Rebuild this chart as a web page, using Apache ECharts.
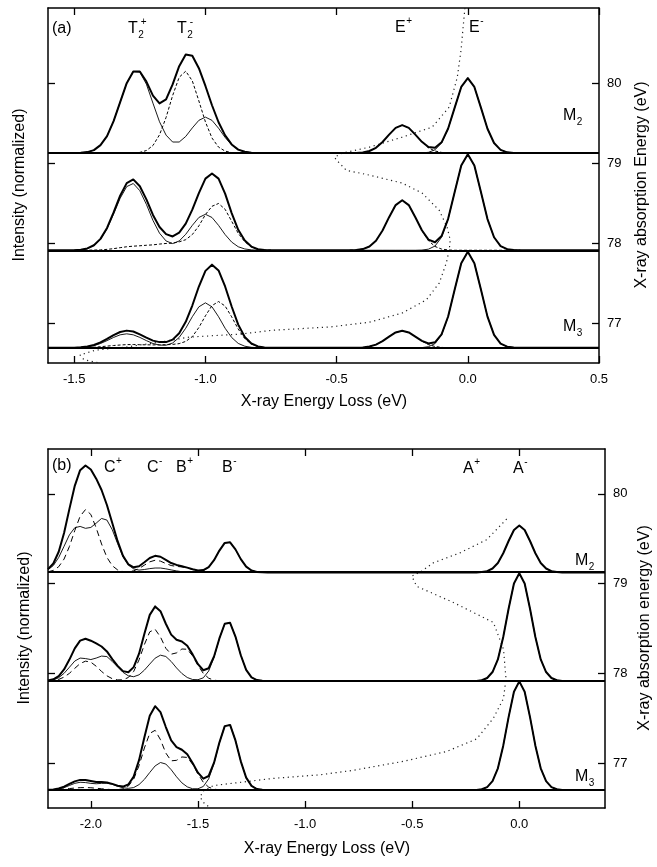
<!DOCTYPE html>
<html><head><meta charset="utf-8">
<script src="https://cdn.jsdelivr.net/npm/echarts@6/dist/echarts.min.js"></script>
<style>html,body{margin:0;padding:0;background:#fff}#c{width:657px;height:867px}</style>
</head><body><div id="c"></div>
<script>
// ================= Panel (a) =================
// sample positions (energy loss, eV)
const lossA = [-1.6,
 -1.525,-1.5,-1.475,-1.45,-1.425,-1.4,-1.375,-1.35,-1.325,-1.3,-1.275,-1.25,-1.225,-1.2,-1.175,-1.15,-1.125,-1.1,-1.075,-1.05,-1.025,-1.0,-0.975,-0.95,-0.925,-0.9,-0.875,-0.85,-0.825,-0.8,-0.775,-0.75,
 -0.65,-0.55,-0.45,-0.425,-0.4,-0.375,-0.35,-0.325,-0.3,-0.275,-0.25,-0.225,-0.2,-0.175,-0.15,-0.125,-0.1,-0.075,-0.05,-0.025,0,0.025,0.05,0.075,0.1,0.125,0.15,0.175,0.2,
 0.3,0.4,0.5];
// intensities (arb. units) : total (thick), component (thin), component (dashed)
const aM2Total = [0,0,0,0.3,1,3,8,17,32,51,70,81.7,81.7,71.6,57.6,49.7,53.7,68.7,87,98.7,97.5,85,67.2,47.9,30.9,17.7,8.7,3.5,1.3,0.4,0,0,0,
 0,0,0,0.2,0.7,2.1,5.3,11.1,18.5,25.3,28,25.3,18.5,11.3,6.1,5.4,10.8,24.6,45.5,66.2,75,66.2,45.5,24.4,10.1,3.3,0.8,0.2,0,0,0,0];
const aM2Thin = [0,0,0,0.3,1,3,8,17,32,51,70,81.5,81,69,50,31.4,18,11.1,11.1,16.7,25.2,32.8,36,32.8,24.9,15.7,8.2,3.5,1.3,0.4,0,0,0,
 0,0,0,0,0,0,0,0,0,0,0,0,0,0.2,0.8,3.3,10.1,24.4,45.5,66.2,75,66.2,45.5,24.4,10.1,3.3,0.8,0.2,0,0,0,0];
const aM2Dash = [0,0,0,0,0,0,0,0,0,0,0,0.2,0.7,2.6,7.6,18.3,35.7,57.6,75.9,82,72.3,52.2,31.2,15.1,6.0,2.0,0.5,0,0,0,0,0,0,
 0,0,0,0.2,0.7,2.1,5.3,11.1,18.5,25.3,28,25.3,18.5,11.1,5.3,2.1,0.7,0.2,0,0,0,0,0,0,0,0,0,0,0,0,0,0];

const aMidTotal = [0,0,0,0.6,1.8,5.0,11.4,22.3,37.8,54.6,67.2,70.9,64.1,50.9,35.3,23.3,16.1,13.8,17.7,26.6,40.6,57.2,71.7,76.8,71.7,56.7,37.2,20.5,9.8,3.7,1.0,0.3,0,
 0,0,0,0.3,1.2,3.8,9.6,19.8,33.1,45.2,50,45.2,33.1,20,10.7,8,14.2,31.5,58.3,84.7,96,84.7,58.3,31.2,13,4.2,1.1,0.2,0,0,0,0];
const aMidThin = [0,0,0,0.5,1.7,4.8,11,21.4,36.2,52,63.7,66.8,59.6,45.9,29.9,17.1,9.3,6.7,9.3,16,24.9,32.8,36,32.8,24.9,15.7,8.2,3.5,1.3,0.4,0,0,0,
 0,0,0,0,0,0,0,0,0,0,0,0,0,0.2,1.1,4.2,13,31.2,58.3,84.7,96,84.7,58.3,31.2,13,4.2,1.1,0.2,0,0,0,0];
const aMidDash = [0,0,0,0,0.1,0.2,0.4,0.9,1.6,2.6,3.5,4.1,4.5,5.0,5.4,6.2,6.8,7.1,8.4,10.6,15.7,24.4,35.7,44,46.8,41,29,17,8.5,3.3,1.0,0.3,0,
 0,0,0,0.3,1.2,3.8,9.6,19.8,33.1,45.2,50,45.2,33.1,19.8,9.6,3.8,1.2,0.3,0,0,0,0,0,0,0,0,0,0,0,0,0,0];

const aM3Total = [0,0,0.1,0.5,1.3,2.8,5.4,8.9,12.7,15.8,17.2,16.3,13.5,10.2,7.2,5.7,5.7,8.2,14.6,26,42.3,61.3,77,83.2,77.4,61.4,41.3,23.2,10.8,4.3,1.4,0.3,0,
 0,0,0,0.1,0.4,1.3,3.2,6.7,11.2,15.4,17,15.4,11.2,6.9,4.3,5.5,13.4,31.3,58.3,84.7,96,84.7,58.3,31.2,13,4.2,1.1,0.2,0,0,0,0];
const aM3Thin = [0,0,0.1,0.4,1.0,2.2,4.3,7.2,10.4,13,14,13,10.4,7.2,4.3,2.7,2.6,4.8,10.4,19.6,31.1,41,45,41,31.1,19.6,10.3,4.4,1.6,0.5,0.1,0,0,
 0,0,0,0,0,0,0,0,0,0,0,0,0,0.2,1.1,4.2,13,31.2,58.3,84.7,96,84.7,58.3,31.2,13,4.2,1.1,0.2,0,0,0,0];
const aM3Dash = [0,0,0,0.1,0.3,0.6,1.1,1.7,2.3,2.8,3.2,3.3,3.1,3.0,2.9,3.0,3.1,3.4,4.2,6.4,11.2,20.3,32,42.2,46.3,41.8,31,18.8,9.2,3.8,1.3,0.3,0,
 0,0,0,0.1,0.4,1.3,3.2,6.7,11.2,15.4,17,15.4,11.2,6.7,3.2,1.3,0.4,0.1,0,0,0,0,0,0,0,0,0,0,0,0,0,0];

// X-ray absorption curve (dotted): [energy loss position, absorption energy eV]
const absA = [[-0.011,80.94],[-0.026,80.41],[-0.040,80.075],[-0.071,79.70],[-0.136,79.45],[-0.250,79.325],[-0.375,79.20],[-0.478,79.125],[-0.508,79.075],[-0.501,79.04],[-0.463,78.91],[-0.375,78.85],[-0.250,78.75],[-0.174,78.625],[-0.109,78.41],[-0.079,78.20],[-0.067,78.04],[-0.071,77.91],[-0.082,77.75],[-0.109,77.50],[-0.158,77.29],[-0.250,77.125],[-0.375,77.01],[-0.527,76.95],[-0.744,76.91],[-0.870,76.86],[-1.060,76.825],[-1.147,76.775],[-1.30,76.70],[-1.42,76.66],[-1.478,76.60],[-1.463,76.54],[-1.402,76.50]];

// excitation energies (spectrum baselines) and ticks
const baseA = [79.125, 77.91, 76.69];
const xTicksA = [-1.5,-1.0,-0.5,0,0.5];
const yTicks = [77,78,79,80];

// ================= Panel (b) =================
const lossB = [-2.2,-2.175,-2.15,-2.125,-2.1,-2.075,-2.05,-2.025,-2.0,-1.975,-1.95,-1.925,-1.9,-1.875,-1.85,-1.825,-1.8,-1.775,-1.75,-1.725,-1.7,-1.675,-1.65,-1.625,-1.6,-1.575,-1.55,-1.525,-1.5,-1.475,-1.45,-1.425,-1.4,-1.375,-1.35,-1.325,-1.3,-1.275,-1.25,-1.225,-1.2,-1.175,
 -1.0,-0.8,-0.6,-0.4,-0.2,-0.175,-0.15,-0.125,-0.1,-0.075,-0.05,-0.025,0,0.025,0.05,0.075,0.1,0.125,0.15,0.175,0.2,
 0.3,0.4];
const bM2Total = [3.3,8.9,20.7,39.6,63.7,86.8,102.5,107.2,103.2,94,82.6,67.6,49.5,31.3,16.6,8.1,5.1,6.2,10.2,14.4,16.6,15.7,12.5,9.4,7.5,6.2,4.8,3.2,2.0,2.3,5.4,12.3,21.9,29.6,30.2,23.1,13.3,5.8,1.9,0.5,0.1,0,
 0,0,0,0,0,0.3,1.3,3.9,9.4,19.2,31.5,42.5,47,42.5,31.5,19.2,9.4,3.9,1.3,0.3,0,0,0];
const bM2Thin = [2.7,6.9,15,26.2,37.7,44.8,46.1,44.2,45.1,49.4,54.1,52.5,42.8,28.8,15.8,7.4,3.5,2.3,2.9,3.8,4.4,4.4,3.6,2.5,1.5,0.7,0.3,0.2,0.4,1.6,5.2,12.3,21.9,29.6,30.2,23.1,13.3,5.8,1.9,0.5,0.1,0,
 0,0,0,0,0,0.3,1.3,3.9,9.4,19.2,31.5,42.5,47,42.5,31.5,19.2,9.4,3.9,1.3,0.3,0,0,0];
const bM2Dash = [0.6,2.0,5.7,13.4,26,42,56.4,63,58.1,44.6,28.5,15.1,6.7,2.5,0.8,0.7,1.6,3.9,7.3,10.6,12.2,11.3,8.9,6.9,6.0,5.5,4.5,3.0,1.6,0.7,0.2,0,0,0,0,0,0,0,0,0,0,0,
 0,0,0,0,0,0,0,0,0,0,0,0,0,0,0,0,0,0,0,0,0,0,0];

const bMidTotal = [0.5,1.7,4.9,11.6,21.5,32.7,40.5,42.4,40.4,37.8,34.6,29.7,21.9,15.2,9.9,8.7,13.9,27.4,47.5,66.3,74.8,70.0,57.4,46.5,41.3,39.6,35.3,26.7,16.9,10.8,12.8,24.6,42.7,57.4,58.4,44.6,25.8,11.2,3.7,0.9,0.2,0,
 0,0,0,0,0,0.8,3.0,9.0,21.6,44.1,72.5,97.7,108,97.7,72.5,44.1,21.6,9.0,3.0,0.8,0,0,0];
const bMidThin = [0.3,1.1,3.3,7.7,13.8,20.0,23.0,22.5,21.5,23.0,25.0,24.5,19.6,14.1,8.7,5.2,4.3,6.2,10.9,17.0,22.9,25.9,24.6,19.6,13.1,7.5,3.5,1.5,1.3,3.2,10,23.8,42.5,57.4,58.4,44.6,25.8,11.2,3.7,0.9,0.2,0,
 0,0,0,0,0,0.8,3.0,9.0,21.6,44.1,72.5,97.7,108,97.7,72.5,44.1,21.6,9.0,3.0,0.8,0,0,0];
const bMidDash = [0.2,0.6,1.6,3.9,7.7,12.7,17.5,19.9,18.9,14.8,9.6,5.2,2.3,1.1,1.2,3.5,9.6,21.2,36.6,49.3,51.9,44.1,32.8,26.9,28.2,32.1,31.8,25.2,15.6,7.6,2.8,0.8,0.2,0,0,0,0,0,0,0,0,0,
 0,0,0,0,0,0,0,0,0,0,0,0,0,0,0,0,0,0,0,0,0,0,0];

const bM3Total = [0.2,0.6,1.6,3.4,6.1,8.7,10.2,10.0,9.0,8.1,8.0,7.6,6.2,4.3,3.5,5.6,13.5,30.0,52.9,74.4,84.1,78.1,63.2,49.7,43.1,40.4,35.9,27.2,17.4,11.4,14.1,27.4,47.6,64.1,65.3,49.8,28.8,12.5,4.2,1.0,0.2,0,
 0,0,0,0,0,0.8,3.0,9.0,21.8,44.5,73.1,98.6,109,98.6,73.1,44.5,21.8,9.0,3.0,0.8,0,0,0];
const bM3Thin = [0.1,0.3,1.0,2.4,4.6,6.7,7.8,7.5,6.7,6.3,6.7,6.8,5.8,3.9,2.3,1.7,2.5,5.5,10.7,17.6,24.2,27.6,26.1,20.4,13.3,7.2,3.2,1.3,1.3,3.6,11.2,26.5,47.4,64.1,65.3,49.8,28.8,12.5,4.2,1.0,0.2,0,
 0,0,0,0,0,0.8,3.0,9.0,21.8,44.5,73.1,98.6,109,98.6,73.1,44.5,21.8,9.0,3.0,0.8,0,0,0];
const bM3Dash = [0.1,0.3,0.6,1.0,1.5,2.0,2.4,2.5,2.3,1.8,1.3,0.8,0.4,0.4,1.2,3.9,11.0,24.5,42.2,56.8,59.9,50.5,37.1,29.3,29.8,33.2,32.7,25.9,16.1,7.8,2.9,0.9,0.2,0,0,0,0,0,0,0,0,0,
 0,0,0,0,0,0,0,0,0,0,0,0,0,0,0,0,0,0,0,0,0,0,0];

const absB = [[-0.059,79.72],[-0.152,79.49],[-0.277,79.343],[-0.401,79.232],[-0.455,79.14],[-0.502,79.084],[-0.479,78.97],[-0.308,78.79],[-0.121,78.567],[-0.074,78.27],[-0.062,77.94],[-0.074,77.72],[-0.121,77.50],[-0.199,77.27],[-0.339,77.13],[-0.541,77.02],[-0.775,76.92],[-0.930,76.87],[-1.148,76.83],[-1.428,76.75],[-1.476,76.69],[-1.49,76.62],[-1.47,76.55],[-1.44,76.50]];

const baseB = [79.125, 77.915, 76.70];
const xTicksB = [-2.0,-1.5,-1.0,-0.5,0];

// intensity units per eV of the energy axis
const SCALE_A = 80, SCALE_B = 90;

// ================= build =================
const FONT = '"Liberation Sans", Arial, Helvetica, sans-serif';
const chart = echarts.init(document.getElementById('c'), null, {renderer:'canvas'});

// component curves are only drawn where the total spectrum is lifted off its baseline
// (elsewhere they lie hidden under the thick baseline)
function pts(xs, ys, base, scale, tot){
  return xs.map((x,i)=>{
    if (tot) {
      const lifted = tot[i] > 0 || (i > 0 && tot[i-1] > 0 && xs[i]-xs[i-1] < 0.05) || (i < tot.length-1 && tot[i+1] > 0 && xs[i+1]-xs[i] < 0.05);
      if (!lifted) return [x, null];
    }
    return [x, base + ys[i]/scale];
  });
}
function mk(xi, yi, data, ls, z){
  return {type:'line', xAxisIndex:xi, yAxisIndex:yi, data, showSymbol:false, symbol:'none',
    smooth:false, connectNulls:false, lineStyle:ls, silent:true, animation:false, z, clip:true};
}
const series = [];
function addSpec(xs, tot, thin, dash, base, scale, xi, yi, dashType){
  series.push(mk(xi, yi, pts(xs, dash, base, scale, tot), {color:'#000', width:1, type:dashType}, 2));
  series.push(mk(xi, yi, pts(xs, thin, base, scale, tot), {color:'#000', width:0.9, type:'solid'}, 3));
  const t = mk(xi, yi, pts(xs, tot, base, scale), {color:'#000', width:2, type:'solid', join:'round'}, 10);
  // the spectrum's baseline, drawn solid across the full panel width
  t.markLine = {silent:true, animation:false, symbol:['none','none'], label:{show:false},
    lineStyle:{type:'solid', width:2, color:'#000'}, emphasis:{disabled:true}, data:[{yAxis:base}]};
  series.push(t);
}
addSpec(lossA, aM2Total, aM2Thin, aM2Dash, baseA[0], SCALE_A, 0, 0, [3,2]);
addSpec(lossA, aMidTotal, aMidThin, aMidDash, baseA[1], SCALE_A, 0, 0, [3,2]);
addSpec(lossA, aM3Total, aM3Thin, aM3Dash, baseA[2], SCALE_A, 0, 0, [3,2]);
series.push(mk(0, 0, absA, {color:'#222', width:1.2, type:[1.2,3.6]}, 1));
addSpec(lossB, bM2Total, bM2Thin, bM2Dash, baseB[0], SCALE_B, 2, 2, [6,4]);
addSpec(lossB, bMidTotal, bMidThin, bMidDash, baseB[1], SCALE_B, 2, 2, [6,4]);
addSpec(lossB, bM3Total, bM3Thin, bM3Dash, baseB[2], SCALE_B, 2, 2, [6,4]);
series.push(mk(2, 2, absB, {color:'#222', width:1.2, type:[1.2,3.6]}, 1));

const axLine = {show:true, onZero:false, lineStyle:{color:'#000', width:1.5}};
function xAx(g, min, max, ticks, bottom){
  return {type:'value', gridIndex:g, min, max, position: bottom?'bottom':'top',
    axisLine:axLine,
    axisTick:{show:true, inside:true, length:7, customValues:ticks, lineStyle:{color:'#000', width:1.3}},
    axisLabel:{show:bottom, customValues:ticks, formatter:v=>v.toFixed(1), color:'#000', fontSize:13, fontFamily:FONT, margin:10},
    splitLine:{show:false}};
}
function yAx(g, min, max, ticks, right){
  return {type:'value', gridIndex:g, min, max, position: right?'right':'left',
    axisLine:axLine,
    axisTick:{show:true, inside:true, length:7, customValues:ticks, lineStyle:{color:'#000', width:1.3}},
    axisLabel:{show:right, customValues:ticks, formatter:v=>String(v), color:'#000', fontSize:13, fontFamily:FONT, margin:8},
    splitLine:{show:false}};
}

// ---------- text annotations ----------
const mctx = document.createElement('canvas').getContext('2d');
function tw(t, size){ mctx.font = size+'px '+FONT; return mctx.measureText(t).width; }
function txt(x, y, t, size, align, rot){
  const e = {type:'text', x, y, silent:true, z:100,
    style:{text:t, font:size+'px '+FONT, fill:'#000', textAlign:align||'left', textVerticalAlign:'middle', align:align||'left', verticalAlign:'middle'}};
  if (rot) e.rotation = rot;
  return e;
}
const gfx = [];
function sym(x, y, main, sub, sup){
  gfx.push(txt(x, y, main, 16));
  const w = tw(main, 16);
  if (sub) gfx.push(txt(x + w + 0.5, y + 6, sub, 10));
  if (sup) gfx.push(txt(x + w + (sub ? tw(sub,10)*0.55 : 0.5), y - 7, sup, 10));
}
// panel (a)
sym(52, 29, '(a)');
sym(128, 29, 'T', '2', '+');
sym(177, 29, 'T', '2', '-');
sym(395, 28, 'E', null, '+');
sym(469, 28, 'E', null, '-');
sym(563, 116, 'M', '2');
sym(563, 327, 'M', '3');
// panel (b)
sym(52, 466, '(b)');
sym(104, 468, 'C', null, '+');
sym(147, 468, 'C', null, '-');
sym(176, 468, 'B', null, '+');
sym(222, 468, 'B', null, '-');
sym(463, 469, 'A', null, '+');
sym(513, 469, 'A', null, '-');
sym(575, 561, 'M', '2');
sym(575, 777, 'M', '3');
// axis titles
gfx.push(txt(324, 402, 'X-ray Energy Loss (eV)', 16, 'center'));
gfx.push(txt(327, 849, 'X-ray Energy Loss (eV)', 16, 'center'));
gfx.push(txt(20, 185, 'Intensity (normalized)', 16, 'center', Math.PI/2));
gfx.push(txt(25, 628, 'Intensity (normalized)', 16, 'center', Math.PI/2));
gfx.push(txt(642, 185, 'X-ray absorption Energy (eV)', 16, 'center', Math.PI/2));
gfx.push(txt(645, 628, 'X-ray absorption energy (eV)', 16, 'center', Math.PI/2));

chart.setOption({
  animation:false,
  backgroundColor:'#fff',
  grid:[{left:48, top:8, width:551, height:355}, {left:48, top:449, width:557, height:359}],
  xAxis:[xAx(0,-1.6,0.5,xTicksA,true), xAx(0,-1.6,0.5,xTicksA,false), xAx(1,-2.2,0.4,xTicksB,true), xAx(1,-2.2,0.4,xTicksB,false)],
  yAxis:[yAx(0,76.5,80.94,yTicks,true), yAx(0,76.5,80.94,yTicks,false), yAx(1,76.5,80.5,yTicks,true), yAx(1,76.5,80.5,yTicks,false)],
  series,
  graphic:{elements:gfx}
});
</script></body></html>
